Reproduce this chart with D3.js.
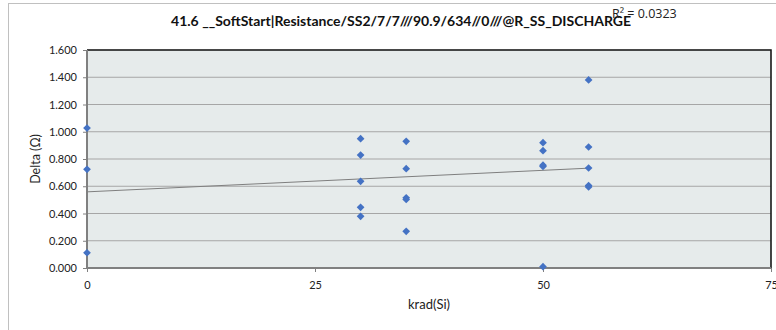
<!DOCTYPE html>
<html><head><meta charset="utf-8">
<script src="https://cdn.jsdelivr.net/npm/d3@7/dist/d3.min.js"></script>
<style>body{margin:0;background:#fff;} svg{display:block;font-family:Lato,"Open Sans",sans-serif;}</style>
</head><body>
<svg id="c" width="776" height="330"></svg>
<script>
const title = "41.6  __SoftStart|Resistance/SS2/7/7///90.9/634//0///@R_SS_DISCHARGE";
const xLabel = "krad(Si)";
const yLabel = "Delta (Ω)";
const r2Label = "R² = 0.0323";
const xTicks = [0, 25, 50, 75];
const yTicks = [0, 0.2, 0.4, 0.6, 0.8, 1.0, 1.2, 1.4, 1.6];
const doses = [0,0,0, 30,30,30,30,30, 35,35,35,35,35, 50,50,50,50,50, 55,55,55,55,55];
const deltas = [1.027,0.724,0.112, 0.949,0.829,0.636,0.445,0.379, 0.930,0.729,0.515,0.503,0.269, 0.920,0.861,0.755,0.745,0.010, 1.380,0.888,0.734,0.605,0.595];

const svg = d3.select("#c");
const L = 87, R = 771, T = 50, B = 268;
const x = d3.scaleLinear().domain([0, 75]).range([L, R]);
const y = d3.scaleLinear().domain([0, 1.6]).range([B, T]);

// outer chart border
svg.append("rect").attr("x", 8.5).attr("y", 3.5).attr("width", 800).attr("height", 400)
  .attr("fill", "#fff").attr("stroke", "#c0c0c0").attr("stroke-width", 1);

// plot area
svg.append("rect").attr("x", L).attr("y", T).attr("width", R - L).attr("height", B - T)
  .attr("fill", "#e6ebeb");

// gridlines
svg.append("g").selectAll("line").data(yTicks.filter(v => v > 0)).join("line")
  .attr("x1", L).attr("x2", R).attr("y1", d => y(d)).attr("y2", d => y(d))
  .attr("stroke", "#a6a6a6").attr("stroke-width", 1.2);

// top/right border dark
svg.append("path").attr("d", `M${L},${T}H${R}V${B}`).attr("fill", "none")
  .attr("stroke", "#1a1a1a").attr("stroke-width", 1.6);

// axes
const yAxis = svg.append("g").attr("transform", `translate(${L},0)`)
  .call(d3.axisLeft(y).tickValues(yTicks).tickFormat(d3.format(".3f")).tickSize(4).tickPadding(6));
const xAxis = svg.append("g").attr("transform", `translate(0,${B})`)
  .call(d3.axisBottom(x).tickValues(xTicks).tickFormat(d3.format("d")).tickSize(4).tickPadding(9));
[yAxis, xAxis].forEach(a => {
  a.select(".domain").attr("stroke", "#808080").attr("stroke-width", 2);
  a.selectAll(".tick line").attr("stroke", "#808080");
  a.selectAll("text").attr("font-family", "Lato, 'Open Sans', sans-serif").attr("font-size", 11).attr("fill", "#222");
});
yAxis.select(".domain").attr("d", `M0,${T}V${B}`);
xAxis.select(".domain").attr("d", `M${L},0H${R}`);

// trend line (least squares)
const mx = d3.mean(doses), my = d3.mean(deltas);
let sxy = 0, sxx = 0;
doses.forEach((d, i) => { sxy += (d - mx) * (deltas[i] - my); sxx += (d - mx) * (d - mx); });
const slope = sxy / sxx, icpt = my - slope * mx;
const [x0, x1] = d3.extent(doses);
svg.append("line").attr("x1", x(x0)).attr("x2", x(x1))
  .attr("y1", y(icpt + slope * x0)).attr("y2", y(icpt + slope * x1))
  .attr("stroke", "#7f7f7f").attr("stroke-width", 1);

// points
svg.append("g").selectAll("path").data(doses.map((d, i) => [d, deltas[i]])).join("path")
  .attr("transform", d => `translate(${x(d[0])},${y(d[1])})`)
  .attr("d", d3.symbol(d3.symbolDiamond2, 38)())
  .attr("fill", "#4472c4");

// texts
svg.append("text").attr("x", 631).attr("y", 26).attr("text-anchor", "end")
  .attr("font-size", 14).attr("font-weight", "bold").attr("fill", "#111").text(title);
svg.append("text").attr("x", 612).attr("y", 18).attr("font-family", "'Open Sans', sans-serif")
  .attr("font-size", 12.5).attr("fill", "#222").text(r2Label);
svg.append("text").attr("x", 429).attr("y", 309).attr("text-anchor", "middle")
  .attr("font-size", 13).attr("fill", "#222").text(xLabel);
svg.append("text").attr("transform", `translate(40,${(T + B) / 2}) rotate(-90)`).attr("text-anchor", "middle")
  .attr("font-size", 12.5).attr("fill", "#222").text(yLabel);
</script>
</body></html>
